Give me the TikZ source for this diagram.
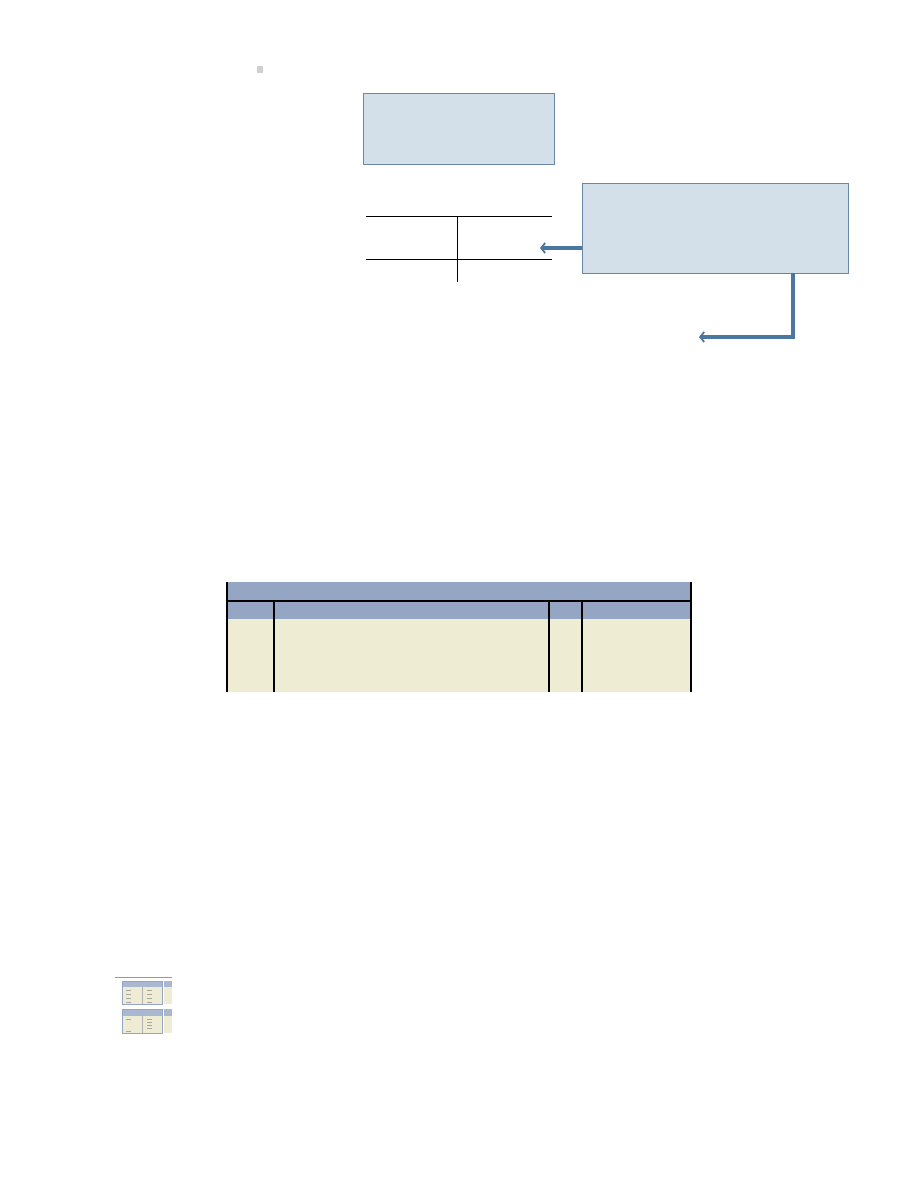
\documentclass[tikz,border=0pt]{standalone}
\usetikzlibrary{arrows.meta}
\definecolor{boxfill}{HTML}{D3DFE9}
\definecolor{boxline}{HTML}{6B87A6}
\definecolor{arrowc}{HTML}{4A77A0}
\definecolor{hdr}{HTML}{94A6C4}
\definecolor{body}{HTML}{EEEDD4}
\definecolor{sq}{HTML}{D0D0D0}
\tikzset{
  notebox/.style={draw=boxline, fill=boxfill, line width=1pt},
  tline/.style={black, line width=1pt},
  callout/.style={draw=arrowc, line width=3.3pt, -{Straight Barb[length=4pt,width=10pt,line width=1.8pt]}},
  grid/.style={black, line width=1.2pt},
}
\begin{document}
\begin{tikzpicture}[x=1pt,y=-1pt]
\useasboundingbox (0,0) rectangle (918,1188);
% small square
\fill[sq] (257,66) rectangle (263,73);
% boxes
\node[notebox, minimum width=191pt, minimum height=71pt, anchor=north west, inner sep=0pt] (boxA) at (363,93) {};
\node[notebox, minimum width=266pt, minimum height=90pt, anchor=north west, inner sep=0pt] (boxB) at (582,183) {};
% T-account
\coordinate (t1l) at (366,216); \coordinate (t1r) at (552,216);
\coordinate (t2l) at (366,259); \coordinate (t2r) at (552,259);
\coordinate (tvt) at (457,216); \coordinate (tvb) at (457,282);
\draw[tline] (t1l) -- (t1r);
\draw[tline] (t2l) -- (t2r);
\draw[tline] (tvt) -- (tvb);
% arrows
\coordinate (a1s) at (582,248); \coordinate (a1e) at (540,248);
\draw[callout] (a1s) -- (a1e);
\coordinate (a2s) at (793,273);
\coordinate (a2c) at (793,337); \coordinate (a2e) at (699,337);
\draw[callout] (a2s) -- (a2c) -- (a2e);
% journal table
\fill[hdr] (227,582) rectangle (691,619);
\fill[body] (227,619) rectangle (691,692);
\draw[grid] (227,601) -- (691,601);
\draw[grid] (227,582) -- (227,692);
\draw[grid] (691,582) -- (691,692);
\draw[grid] (274,601) -- (274,692);
\draw[grid] (549,601) -- (549,692);
\draw[grid] (582,601) -- (582,692);
% thumbnail
\draw[black!40, line width=0.6pt] (115,977) -- (172,977);
\fill[body] (122,981) rectangle (162,1004);
\fill[hdr!80] (122,981) rectangle (162,987);
\draw[hdr, line width=0.5pt] (122,981) rectangle (162,1004);
\draw[black!30, line width=0.3pt] (142,987) -- (142,1004);
\foreach \yy in {990,994,998,1002} {
  \draw[black!35, line width=0.4pt] (126,\yy) -- (131,\yy);
  \draw[black!35, line width=0.4pt] (147,\yy) -- (152,\yy);
}
\fill[body] (164,981) rectangle (172,1004);
\fill[hdr!80] (164,981) rectangle (172,987);
\fill[body] (122,1009) rectangle (162,1033);
\fill[hdr!80] (122,1009) rectangle (162,1016);
\draw[hdr, line width=0.5pt] (122,1009) rectangle (162,1033);
\draw[black!30, line width=0.3pt] (142,1016) -- (142,1033);
\draw[black!35, line width=0.4pt] (126,1019) -- (131,1019);
\foreach \yy in {1019,1022,1025,1028} {
  \draw[black!35, line width=0.4pt] (147,\yy) -- (152,\yy);
}
\draw[black!35, line width=0.4pt] (126,1031) -- (131,1031);
\fill[body] (164,1009) rectangle (172,1033);
\fill[hdr!80] (164,1009) rectangle (172,1016);
\end{tikzpicture}
\end{document}
